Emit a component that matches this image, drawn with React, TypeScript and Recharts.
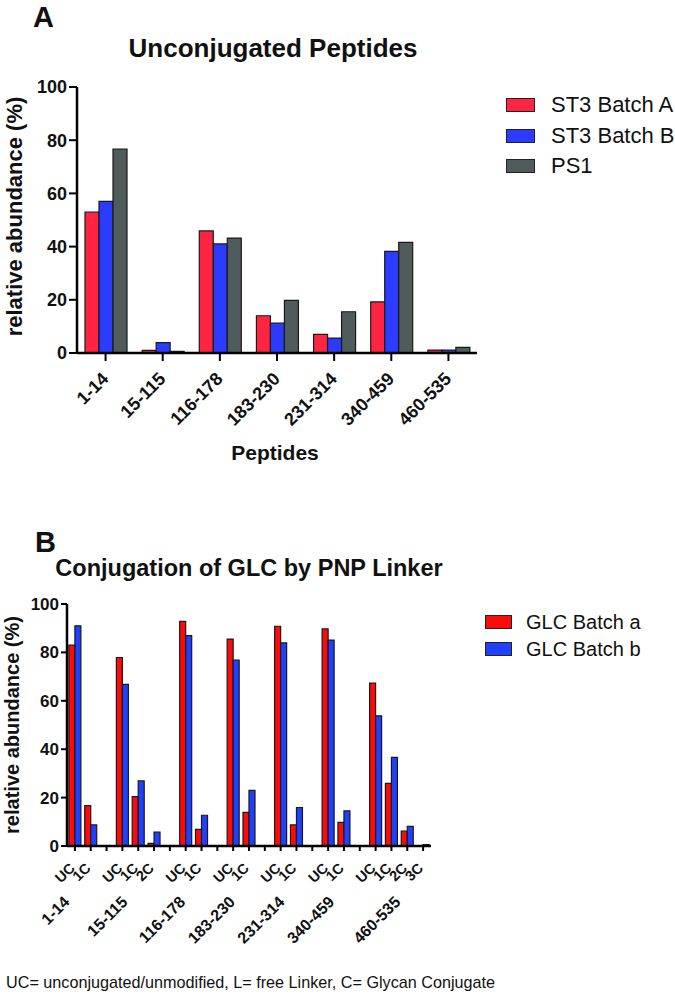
import React from 'react';
import { BarChart, Bar, XAxis, YAxis, Legend } from 'recharts';

const FONT = "'Liberation Sans', Arial, Helvetica, sans-serif";

// ---------- Panel A data ----------
const peptides = ['1-14', '15-115', '116-178', '183-230', '231-314', '340-459', '460-535'];
const st3BatchA = [53.0, 1.0, 45.9, 14.0, 7.0, 19.2, 1.1];
const st3BatchB = [57.0, 3.9, 41.0, 11.2, 5.6, 38.2, 1.1];
const ps1 = [76.7, 0.6, 43.2, 19.8, 15.5, 41.6, 2.1];
const seriesNamesA = ['ST3 Batch A', 'ST3 Batch B', 'PS1'];
const yTicks = [0, 20, 40, 60, 80, 100];

// ---------- Panel B data ----------
const subLabels = ['UC', '1C', '', 'UC', '1C', '2C', '', 'UC', '1C', '', 'UC', '1C', '', 'UC', '1C', '', 'UC', '1C', '', 'UC', '1C', '2C', '3C'];
const glcBatchA = [83.0, 16.7, null, 77.9, 20.4, 1.1, null, 92.8, 6.9, null, 85.5, 13.9, null, 90.8, 8.7, null, 89.7, 9.8, null, 67.3, 25.9, 6.2, 0];
const glcBatchB = [91.0, 8.7, null, 66.8, 26.9, 5.7, null, 86.9, 12.7, null, 76.8, 23.0, null, 83.9, 15.9, null, 85.1, 14.5, null, 53.8, 36.6, 8.1, 0.6];
const groupLabels = ['1-14', '15-115', '116-178', '183-230', '231-314', '340-459', '460-535'];
const seriesNamesB = ['GLC Batch a', 'GLC Batch b'];

const dataA = peptides.map((p, i) => ({ name: p, a: st3BatchA[i], b: st3BatchB[i], c: ps1[i] }));
const dataB = subLabels.map((s, i) => ({ key: `s${i}`, sub: s, a: glcBatchA[i], b: glcBatchB[i] }));

// group centres (in slot units) derived from the sub-label layout
const groupCenters: number[] = [];
{
  let start = -1;
  subLabels.forEach((s, i) => {
    if (s !== '' && start < 0) start = i;
    const endHere = s !== '' && (i === subLabels.length - 1 || subLabels[i + 1] === '');
    if (endHere) {
      groupCenters.push((start + i) / 2 + 0.5);
      start = -1;
    }
  });
}

const PeptideTick = (props: any) => {
  const { x, y, payload } = props;
  const tx = x + 4;
  const ty = y + 17;
  return (
    <text x={tx} y={ty} transform={`rotate(-45 ${tx} ${ty})`} textAnchor="end" fontFamily={FONT} fontWeight="bold" fontSize={18} fill="#111">
      {payload.value}
    </text>
  );
};

const SubTick = (props: any) => {
  const { x, y, index } = props;
  const label = subLabels[index];
  if (!label) return null;
  const tx = x + 1;
  const ty = y + 16;
  return (
    <text x={tx} y={ty} transform={`rotate(-45 ${tx} ${ty})`} textAnchor="end" fontFamily={FONT} fontWeight="bold" fontSize={14.5} fill="#111">
      {label}
    </text>
  );
};

const GroupTick = (props: any) => {
  const { x, y, index } = props;
  const label = groupLabels[index];
  const tx = x - 13;
  const ty = y + 27;
  return (
    <text x={tx} y={ty} transform={`rotate(-45 ${tx} ${ty})`} textAnchor="end" fontFamily={FONT} fontWeight="bold" fontSize={16} fill="#111">
      {label}
    </text>
  );
};

const makeLegend = (order: string[], boxW: number, boxH: number, rowH: number, gap: number, fontSize: number) => (props: any) => {
  const items = [...(props.payload || [])].sort((p: any, q: any) => order.indexOf(p.value) - order.indexOf(q.value));
  return (
    <div style={{ fontFamily: FONT }}>
      {items.map((p: any) => (
        <div key={p.value} style={{ display: 'flex', alignItems: 'center', height: rowH }}>
          <span style={{ display: 'inline-block', width: boxW, height: boxH, background: p.color, border: '1.5px solid #222', boxSizing: 'border-box', marginRight: gap }} />
          <span style={{ fontSize, lineHeight: 1, color: '#111', whiteSpace: 'nowrap' }}>{p.value}</span>
        </div>
      ))}
    </div>
  );
};

const LegendA = makeLegend(seriesNamesA, 29, 14, 30.5, 16, 22);
const LegendB = makeLegend(seriesNamesB, 27, 14, 27, 14.5, 20);

const axisLine = { stroke: '#000', strokeWidth: 2.5 };
const tickLine = { stroke: '#000', strokeWidth: 2 };
const yTickStyleA = { fill: '#111', fontFamily: FONT, fontWeight: 'bold', fontSize: 18 } as any;
const yTickStyleB = { fill: '#111', fontFamily: FONT, fontWeight: 'bold', fontSize: 17 } as any;

export default function App() {
  return (
    <div style={{ position: 'relative', width: 675, height: 997, background: '#fff', fontFamily: FONT, overflow: 'hidden' }}>
      <style>{'body{margin:0;background:#fff}'}</style>

      <div style={{ position: 'absolute', left: 0, top: 0 }}>
        <BarChart width={675} height={470} data={dataA} margin={{ top: 87, right: 198, bottom: 0, left: 0 }} barCategoryGap="14%" barGap={0}>
          <XAxis dataKey="name" interval={0} height={117} axisLine={axisLine} tickLine={tickLine} tickSize={8} tick={<PeptideTick />} />
          <YAxis width={77} domain={[0, 100]} ticks={yTicks} interval={0} axisLine={axisLine} tickLine={tickLine} tickSize={8} tick={yTickStyleA} />
          <Legend layout="vertical" align="center" verticalAlign="middle" wrapperStyle={{ left: 506, top: 90, width: 169 }} content={LegendA} />
          <Bar dataKey="a" name={seriesNamesA[0]} fill="#FF2442" stroke="#1a1a1a" strokeWidth={1.2} isAnimationActive={false} />
          <Bar dataKey="b" name={seriesNamesA[1]} fill="#2B3BFF" stroke="#1a1a1a" strokeWidth={1.2} isAnimationActive={false} />
          <Bar dataKey="c" name={seriesNamesA[2]} fill="#505B5B" stroke="#1a1a1a" strokeWidth={1.2} isAnimationActive={false} />
        </BarChart>
      </div>

      <div style={{ position: 'absolute', left: 0, top: 520 }}>
        <BarChart width={675} height={436} data={dataB} margin={{ top: 84, right: 244, bottom: 0, left: 0 }} barCategoryGap="12%" barGap={0}>
          <XAxis dataKey="key" interval={0} height={30} axisLine={axisLine} tickLine={tickLine} tickSize={5} tick={<SubTick />} />
          <XAxis xAxisId="grp" type="number" domain={[0, subLabels.length]} allowDataOverflow ticks={groupCenters} interval={0} height={80} axisLine={false} tickLine={false} tickSize={0} tickMargin={0} tick={<GroupTick />} />
          <YAxis width={67} domain={[0, 100]} ticks={yTicks} interval={0} axisLine={axisLine} tickLine={tickLine} tickSize={6} tick={yTickStyleB} />
          <Legend layout="vertical" align="center" verticalAlign="middle" wrapperStyle={{ left: 484.5, top: 88, width: 190 }} content={LegendB} />
          <Bar dataKey="a" name={seriesNamesB[0]} fill="#FF0A0A" stroke="#1a1a1a" strokeWidth={1.2} isAnimationActive={false} />
          <Bar dataKey="b" name={seriesNamesB[1]} fill="#1F40FF" stroke="#1a1a1a" strokeWidth={1.2} isAnimationActive={false} />
        </BarChart>
      </div>

      <svg width={675} height={997} style={{ position: 'absolute', left: 0, top: 0, pointerEvents: 'none' }}>
        <g fontFamily={FONT} fill="#111">
          <text x={33} y={27} fontSize={29} fontWeight="bold">A</text>
          <text x={273} y={57} fontSize={26} fontWeight="bold" textAnchor="middle">Unconjugated Peptides</text>
          <text x={22} y={216.5} fontSize={22} fontWeight="bold" textAnchor="middle" transform="rotate(-90 22 216.5)">relative abundance (%)</text>
          <text x={275} y={460} fontSize={21} fontWeight="bold" textAnchor="middle">Peptides</text>

          <text x={35} y={552} fontSize={29} fontWeight="bold">B</text>
          <text x={249} y={576} fontSize={23.5} fontWeight="bold" textAnchor="middle">Conjugation of GLC by PNP Linker</text>
          <text x={19} y={725} fontSize={20} fontWeight="bold" textAnchor="middle" transform="rotate(-90 19 725)">relative abundance (%)</text>

          <text x={6} y={988} fontSize={16.2}>UC= unconjugated/unmodified, L= free Linker, C= Glycan Conjugate</text>
        </g>
      </svg>
    </div>
  );
}
